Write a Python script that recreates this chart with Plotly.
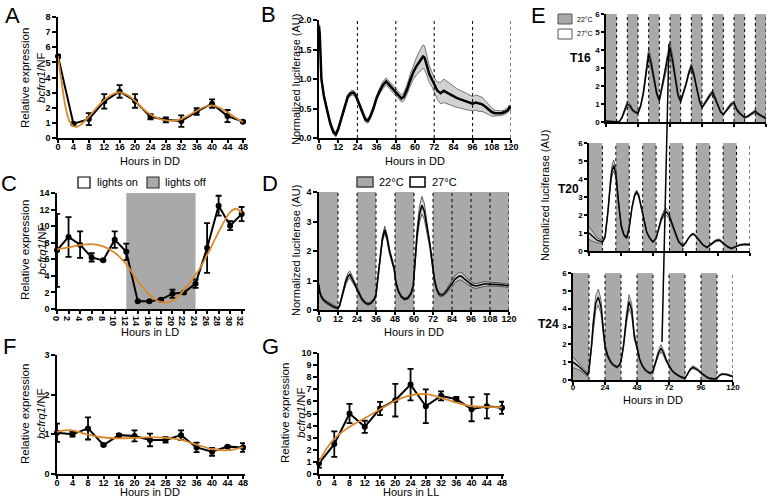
import plotly.graph_objects as go

W, H = 768, 498
FONT = "Liberation Sans"
ORANGE = "#D9892B"
SHADE = "#a9a9a9"

# ---------------- DATA ----------------
# Panel A (qPCR, DD)
A_hours = [0, 4, 8, 12, 16, 20, 24, 28, 32, 36, 40, 44, 48]
A_mean = [5.4, 0.95, 1.25, 2.42, 3.08, 2.45, 1.4, 1.2, 1.12, 1.75, 2.27, 1.45, 1.08]
A_err = [0.1, 0.05, 0.4, 0.48, 0.42, 0.45, 0.17, 0.17, 0.38, 0.22, 0.28, 0.4, 0.05]
A_fit_h = [0, 1, 2, 3, 4, 5, 6, 8, 10, 12, 14, 16, 18, 20, 22, 24, 26, 28, 30, 32, 34, 36, 38, 40, 42, 44, 46, 48]
A_fit = [5.4, 3.6, 2.0, 1.1, 0.78, 0.75, 0.9, 1.4, 2.0, 2.5, 2.88, 3.02, 2.85, 2.45, 1.95, 1.55, 1.3, 1.17, 1.15, 1.25, 1.5, 1.8, 2.05, 2.15, 2.0, 1.7, 1.35, 1.05]

# Panel B (luciferase, DD)
B_hours = [0, 0.5, 1.5, 3, 5, 7, 9, 10.5, 12, 14, 16, 18, 20, 21.5, 23, 25, 27, 29, 30.5, 32, 34, 36, 38, 40, 42,
           44, 46, 48, 50, 51.5, 53, 55, 57, 59, 61, 63, 65, 66, 67.5, 69, 71, 72.5, 74, 76, 78, 80, 82, 84, 86, 88,
           90, 92, 94, 96, 98, 100, 102, 104, 106, 108, 110, 112, 114, 116, 118, 119, 120]
B_mean = [1.9, 1.75, 1.0, 0.72, 0.48, 0.25, 0.1, 0.06, 0.15, 0.33, 0.55, 0.7, 0.76, 0.77, 0.72, 0.58, 0.43, 0.31, 0.29,
          0.36, 0.5, 0.68, 0.8, 0.9, 0.96, 0.9, 0.83, 0.78, 0.72, 0.67, 0.7, 0.82, 0.98, 1.12, 1.22, 1.3, 1.38, 1.36,
          1.22, 1.08, 0.97, 0.88, 0.8, 0.76, 0.8, 0.77, 0.74, 0.7, 0.68, 0.66, 0.64, 0.62, 0.6, 0.58, 0.6, 0.58, 0.57,
          0.53, 0.48, 0.44, 0.42, 0.42, 0.42, 0.44, 0.47, 0.52, 0.5]
B_sem = [0.04, 0.04, 0.04, 0.04, 0.04, 0.04, 0.04, 0.04, 0.04, 0.04, 0.04, 0.04, 0.04, 0.04, 0.04, 0.04, 0.04, 0.04, 0.04,
         0.04, 0.04, 0.04, 0.05, 0.06, 0.06, 0.06, 0.06, 0.06, 0.06, 0.06, 0.07, 0.08, 0.1, 0.12, 0.15, 0.18, 0.2, 0.2,
         0.17, 0.14, 0.12, 0.12, 0.15, 0.18, 0.2, 0.19, 0.18, 0.17, 0.16, 0.15, 0.15, 0.14, 0.13, 0.12, 0.13, 0.13,
         0.12, 0.1, 0.08, 0.07, 0.05, 0.05, 0.04, 0.04, 0.04, 0.04, 0.04]

# Panel C (qPCR, LD)
C_hours = [0, 2, 4, 6, 8, 10, 12, 14, 16, 18, 20, 22, 24, 26, 28, 30, 32]
C_mean = [7.08, 8.7, 7.76, 6.23, 5.87, 8.37, 6.9, 0.93, 0.93, 1.13, 1.85, 2.0, 3.06, 7.36, 12.47, 10.06, 11.46]
C_err = [4.4, 2.4, 1.6, 0.5, 0.1, 1.0, 1.0, 0.05, 0.05, 0.1, 0.5, 0.1, 0.5, 3.0, 1.2, 0.55, 0.85]
C_fit_h = [0, 2, 4, 6, 8, 10, 12, 13, 14, 15, 16, 17, 18, 19, 20, 21, 22, 24, 25, 26, 28, 29, 30, 31, 32]
C_fit = [7.2, 7.45, 7.7, 7.82, 7.55, 6.8, 5.4, 4.4, 3.4, 2.5, 1.75, 1.15, 0.85, 0.78, 1.0, 1.5, 2.3, 4.1, 5.2, 6.5, 9.3, 10.6, 11.7, 12.1, 11.6]
C_dark = [12, 24]

# Panel D (luciferase, temperature cycles)
D_hours = [0, 0.5, 1.5, 3, 5, 7, 9, 11, 12, 13, 14, 15.5, 17, 18.5, 19.5, 21, 23, 25, 27, 29, 31, 33, 35, 36, 37,
           38.5, 40, 41.5, 43, 44.5, 46, 47.5, 48.5, 50, 52, 54, 56, 58, 59.5, 60.5, 62, 63.5, 65, 66.5, 68, 70, 72,
           73, 74.5, 76, 78, 80, 82, 84, 86, 88.5, 90, 92, 94, 96, 98, 100, 102, 104, 106, 108, 110, 112, 114, 116,
           118, 120]
D_mean = [0.85, 0.6, 0.45, 0.33, 0.25, 0.18, 0.12, 0.08, 0.06, 0.15, 0.35, 0.65, 0.98, 1.15, 1.2, 1.05, 0.85, 0.6,
          0.38, 0.25, 0.2, 0.24, 0.38, 0.52, 1.0, 1.75, 2.4, 2.72, 2.45, 2.0, 1.72, 1.4, 0.95, 0.65, 0.45, 0.37, 0.4,
          0.55, 0.8, 1.5, 2.6, 3.25, 3.55, 3.35, 2.85, 2.25, 1.4, 1.0, 0.68, 0.52, 0.5, 0.6, 0.75, 0.9, 1.05, 1.15,
          1.14, 1.05, 0.95, 0.88, 0.82, 0.82, 0.85, 0.88, 0.88, 0.88, 0.88, 0.87, 0.86, 0.85, 0.83, 0.82]
D_sem = [0.05, 0.05, 0.05, 0.05, 0.05, 0.05, 0.04, 0.04, 0.04, 0.04, 0.05, 0.06, 0.1, 0.12, 0.12, 0.1, 0.08, 0.06,
         0.05, 0.04, 0.04, 0.04, 0.04, 0.05, 0.06, 0.08, 0.1, 0.12, 0.12, 0.1, 0.08, 0.07, 0.06, 0.05, 0.04, 0.04,
         0.04, 0.05, 0.06, 0.1, 0.2, 0.28, 0.3, 0.28, 0.22, 0.15, 0.1, 0.06, 0.05, 0.05, 0.05, 0.06, 0.08, 0.1,
         0.12, 0.13, 0.13, 0.12, 0.1, 0.09, 0.08, 0.08, 0.08, 0.08, 0.07, 0.07, 0.06, 0.06, 0.06, 0.05, 0.05, 0.05]

# Panel E: T16, T20, T24 cycles
T16_hours = [0, 4, 8, 10, 12, 14, 16, 18, 20, 22, 24, 26, 28, 30, 32, 34, 36, 38, 40, 42, 44, 46, 48, 50, 52, 54, 56,
             58, 60, 62, 64, 66, 68, 70, 72, 74, 76, 78, 80, 82, 84, 86, 88, 90, 92, 94, 96, 98, 100, 102, 104, 106,
             108, 110, 112, 114, 116, 118, 120]
T16_mean = [0.05, 0.02, 0.0, 0.02, 0.25, 0.65, 1.0, 0.9, 0.65, 0.55, 0.5, 0.9, 1.6, 2.7, 3.8, 3.2, 2.4, 1.6, 1.2,
            1.9, 2.7, 3.5, 4.1, 3.4, 2.4, 1.5, 1.15, 1.6, 2.1, 2.7, 3.1, 2.6, 1.9, 1.2, 0.8, 1.05, 1.25, 1.5, 1.65,
            1.3, 0.9, 0.55, 0.42, 0.6, 0.8, 1.0, 1.05, 0.7, 0.5, 0.38, 0.25, 0.3, 0.4, 0.5, 0.6, 0.45, 0.35, 0.28, 0.2]
T16_sem = [0.03, 0.03, 0.03, 0.03, 0.05, 0.1, 0.15, 0.12, 0.08, 0.06, 0.06, 0.08, 0.12, 0.2, 0.3, 0.25, 0.15, 0.1,
           0.08, 0.1, 0.15, 0.25, 0.35, 0.25, 0.15, 0.1, 0.08, 0.1, 0.1, 0.12, 0.15, 0.12, 0.1, 0.08, 0.06, 0.06,
           0.08, 0.1, 0.12, 0.1, 0.08, 0.06, 0.05, 0.06, 0.08, 0.1, 0.1, 0.08, 0.06, 0.05, 0.05, 0.05, 0.06, 0.06,
           0.08, 0.06, 0.05, 0.05, 0.05]
T20_hours = [0, 2, 4, 6, 8, 10, 12, 14, 16, 17, 18.4, 20, 22, 24, 26, 28, 30, 32, 34, 35.5, 37, 39, 41, 43, 45,
             47.5, 50, 52, 54, 56, 57.7, 59.5, 61, 63, 65, 67, 70, 72, 74, 76, 77.6, 79, 81, 83, 85, 88, 90, 92, 94,
             96, 97.5, 99, 101, 103, 106, 108, 110, 112, 114, 116, 118, 120]
T20_mean = [1.0, 0.85, 0.7, 0.6, 0.55, 0.5, 0.8, 2.1, 3.8, 4.4, 4.75, 4.3, 2.7, 1.4, 0.9, 0.72, 1.3, 2.4, 3.1, 3.28,
            3.1, 2.4, 1.6, 1.05, 0.75, 0.5, 0.7, 1.2, 1.8, 2.1, 2.17, 2.0, 1.7, 1.25, 0.8, 0.5, 0.27, 0.45, 0.7, 0.88,
            0.95, 0.88, 0.7, 0.5, 0.33, 0.2, 0.3, 0.45, 0.55, 0.6, 0.6, 0.5, 0.38, 0.25, 0.14, 0.18, 0.26, 0.33, 0.37,
            0.37, 0.36, 0.35]
T20_sem = [0.35, 0.3, 0.2, 0.15, 0.1, 0.08, 0.08, 0.15, 0.25, 0.3, 0.3, 0.25, 0.15, 0.08, 0.06, 0.05, 0.06, 0.08,
           0.1, 0.1, 0.1, 0.08, 0.06, 0.05, 0.05, 0.05, 0.05, 0.08, 0.12, 0.18, 0.2, 0.18, 0.12, 0.08, 0.05, 0.04,
           0.04, 0.04, 0.04, 0.05, 0.05, 0.05, 0.04, 0.04, 0.04, 0.04, 0.04, 0.05, 0.06, 0.06, 0.06, 0.05, 0.04,
           0.04, 0.03, 0.03, 0.03, 0.04, 0.04, 0.04, 0.04, 0.04]
T24_hours = [0, 2, 4, 6, 8, 10, 11, 12, 13, 14, 15, 17, 19, 21, 23, 24, 26, 28, 30, 32, 33, 35, 36, 37, 38, 40, 42,
             44, 46, 48, 50, 52, 54, 56, 58, 60, 62, 64, 66, 68, 70, 72, 74, 76, 78, 80, 82, 84, 86, 88, 90, 92, 94,
             96, 98, 100, 102, 104, 106, 108, 110, 112, 114, 116, 118, 120]
T24_mean = [1.0, 0.9, 0.78, 0.65, 0.5, 0.35, 0.3, 0.55, 1.2, 2.0, 3.0, 4.3, 4.65, 4.1, 2.6, 1.9, 1.35, 1.05, 0.85,
            0.75, 0.72, 0.85, 1.05, 1.5, 2.0, 3.4, 4.4, 3.95, 2.45, 1.85, 1.15, 0.8, 0.58, 0.45, 0.38, 0.5, 0.95,
            1.5, 1.78, 1.5, 1.1, 0.78, 0.55, 0.4, 0.28, 0.2, 0.14, 0.1, 0.35, 0.6, 0.72, 0.65, 0.55, 0.4, 0.28,
            0.18, 0.1, 0.06, 0.06, 0.1, 0.28, 0.33, 0.33, 0.3, 0.24, 0.2]
T24_sem = [0.3, 0.25, 0.2, 0.15, 0.12, 0.1, 0.1, 0.1, 0.12, 0.2, 0.3, 0.4, 0.45, 0.4, 0.25, 0.15, 0.1, 0.08, 0.06,
           0.05, 0.05, 0.05, 0.06, 0.1, 0.15, 0.3, 0.38, 0.35, 0.2, 0.12, 0.08, 0.06, 0.05, 0.05, 0.05, 0.05, 0.1,
           0.15, 0.2, 0.15, 0.1, 0.06, 0.05, 0.04, 0.04, 0.04, 0.04, 0.04, 0.05, 0.06, 0.08, 0.07, 0.06, 0.05, 0.04,
           0.04, 0.03, 0.03, 0.03, 0.03, 0.04, 0.04, 0.04, 0.04, 0.04, 0.04]

# Panel F (qPCR, DD)
F_hours = [0, 4, 8, 12, 16, 20, 24, 28, 32, 36, 40, 44, 48]
F_mean = [1.04, 1.0, 1.15, 0.73, 0.98, 0.96, 0.86, 0.86, 0.98, 0.67, 0.56, 0.69, 0.67]
F_err = [0.23, 0.06, 0.28, 0.02, 0.03, 0.14, 0.16, 0.07, 0.12, 0.12, 0.1, 0.02, 0.11]
F_fit_h = [0, 2, 4, 6, 8, 12, 16, 20, 24, 28, 32, 36, 40, 44, 48]
F_fit = [1.06, 1.1, 1.1, 1.05, 0.99, 0.92, 0.9, 0.91, 0.93, 0.91, 0.86, 0.74, 0.63, 0.6, 0.68]

# Panel G (qPCR, LL)
G_hours = [0, 4, 8, 12, 16, 20, 24, 28, 32, 36, 40, 44, 48]
G_mean = [0.88, 2.47, 5.0, 3.9, 5.41, 6.1, 7.39, 5.6, 6.46, 6.18, 5.36, 5.6, 5.47]
G_err = [0.35, 1.05, 0.8, 0.5, 0.55, 1.35, 1.3, 1.4, 0.37, 0.2, 1.0, 1.0, 0.5]
G_fit_h = [0, 2, 4, 8, 12, 16, 20, 24, 28, 32, 36, 40, 44, 48]
G_fit = [1.0, 2.1, 2.9, 3.9, 4.6, 5.35, 6.05, 6.5, 6.6, 6.3, 5.9, 5.6, 5.55, 5.5]

# ---------------- FIGURE ----------------
fig = go.Figure()
layout = dict(width=W, height=H, margin=dict(l=0, r=0, t=0, b=0, autoexpand=False), paper_bgcolor="white",
              plot_bgcolor="rgba(0,0,0,0)", showlegend=False, font=dict(family=FONT, color="black"))

panels = {
    # name: (axis idx, px_left, px_right, x_range, px_bottom, px_top, y_range, dtick_x, dtick_y, show_xlabels, tickfmt)
    "A": (1, 58, 246, [0, 48.8], 138, 17, [0, 8], 4, 1, True, None),
    "B": (2, 319, 511, [0, 120], 138, 20, [0, 2], 12, 0.5, True, ".1f"),
    "C": (3, 57, 244.6, [0, 32.5], 309, 193, [0, 14], 2, 2, True, None),
    "D": (4, 319, 509, [0, 120], 310, 192, [0, 4], 12, 1, True, None),
    "T16": (5, 606, 766, [0, 120], 122, 14, [0, 6], 24, 1, False, None),
    "T20": (6, 589, 750, [0, 120], 251, 143, [0, 6], 24, 1, False, None),
    "T24": (7, 573, 733, [0, 120], 380, 273, [0, 6], 24, 1, True, None),
    "F": (8, 57, 245, [0, 48.5], 474, 355, [0, 3], 4, 1, True, None),
    "G": (9, 319, 504, [0, 48.5], 474, 353, [0, 10], 4, 1, True, None),
}


def ax_names(i):
    return ("x" if i == 1 else f"x{i}"), ("y" if i == 1 else f"y{i}")


for name, (i, xl, xr, xrng, yb, yt, yrng, dx, dy, showx, fmt) in panels.items():
    small = name.startswith("T")
    tf = dict(family=FONT, size=8 if small else 9, color="black", weight="bold")
    xn, yn = ax_names(i)
    common = dict(showline=True, linecolor="black", linewidth=1.5, ticks="outside", ticklen=4 if not small else 3,
                  tickwidth=1.5, tickcolor="black", showgrid=False, zeroline=False, tickfont=tf, fixedrange=True,
                  automargin=False)
    layout["xaxis" if i == 1 else f"xaxis{i}"] = dict(
        common, domain=[xl / W, xr / W], range=xrng, anchor=yn, tick0=0, dtick=dx, showticklabels=showx,
        ticklen=3, ticklabelstandoff=-4)
    ydict = dict(common, domain=[1 - yb / H, 1 - yt / H], range=yrng, anchor=xn, tick0=0, dtick=dy)
    if fmt:
        ydict["tickformat"] = fmt
    layout["yaxis" if i == 1 else f"yaxis{i}"] = ydict

shapes = []


def rect(i, x0, x1, y0, y1, color=SHADE):
    xn, yn = ax_names(i)
    shapes.append(dict(type="rect", xref=xn, yref=yn, x0=x0, x1=x1, y0=y0, y1=y1,
                       fillcolor=color, line=dict(width=0), layer="below"))


def vdash(i, x, y1):
    xn, yn = ax_names(i)
    shapes.append(dict(type="line", xref=xn, yref=yn, x0=x, x1=x, y0=0, y1=y1,
                       line=dict(color="black", width=1, dash="dot"), layer="above"))


# Panel C dark period
rect(3, C_dark[0], C_dark[1], 0, 14)
# Panel D: gray everywhere except warm windows
rect(4, 0, 12, 0, 4)
rect(4, 24, 36, 0, 4)
rect(4, 48, 60, 0, 4)
rect(4, 72, 120, 0, 4)
for h in range(12, 121, 12):
    vdash(4, h, 4)
# Panel B dashed lines
for h in [24, 48, 72, 96, 120]:
    vdash(2, h, 2)
# Panel E shading
for s in range(0, 120, 16):
    rect(5, s, s + 8, 0, 6)
for h in range(8, 121, 8):
    vdash(5, h, 6)
for s in range(0, 120, 20):
    rect(6, s, s + 10, 0, 6)
for h in range(10, 121, 10):
    vdash(6, h, 6)
for s in range(0, 120, 24):
    rect(7, s, s + 12, 0, 6)
for h in range(12, 121, 12):
    vdash(7, h, 6)


def band(i, hours, mean, sem, line_w=2.0, edge="#444444"):
    xn, yn = ax_names(i)
    lo = [m - s for m, s in zip(mean, sem)]
    hi = [m + s for m, s in zip(mean, sem)]
    fig.add_trace(go.Scatter(x=hours, y=lo, mode="lines", line=dict(color=edge, width=0.7),
                             xaxis=xn, yaxis=yn, hoverinfo="skip"))
    fig.add_trace(go.Scatter(x=hours, y=hi, mode="lines", line=dict(color=edge, width=0.7),
                             fill="tonexty", fillcolor="rgba(205,205,205,0.9)", xaxis=xn, yaxis=yn,
                             hoverinfo="skip"))
    fig.add_trace(go.Scatter(x=hours, y=mean, mode="lines", line=dict(color="black", width=line_w),
                             xaxis=xn, yaxis=yn))


def qpcr(i, hours, mean, err, fit_h, fit):
    xn, yn = ax_names(i)
    fig.add_trace(go.Scatter(x=hours, y=mean, mode="lines+markers", line=dict(color="black", width=2),
                             marker=dict(color="black", size=6),
                             error_y=dict(type="data", array=err, color="black", thickness=1.8, width=3),
                             xaxis=xn, yaxis=yn, cliponaxis=False))
    fig.add_trace(go.Scatter(x=fit_h, y=fit, mode="lines", line=dict(color=ORANGE, width=1.8, shape="spline"),
                             xaxis=xn, yaxis=yn, cliponaxis=False))


qpcr(1, A_hours, A_mean, A_err, A_fit_h, A_fit)
band(2, B_hours, B_mean, B_sem, line_w=2.5)
qpcr(3, C_hours, C_mean, C_err, C_fit_h, C_fit)
band(4, D_hours, D_mean, D_sem, line_w=1.6, edge="#222222")
band(5, T16_hours, T16_mean, T16_sem, line_w=1.4, edge="#333333")
band(6, T20_hours, T20_mean, T20_sem, line_w=1.4, edge="#333333")
band(7, T24_hours, T24_mean, T24_sem, line_w=1.4, edge="#333333")
qpcr(8, F_hours, F_mean, F_err, F_fit_h, F_fit)
qpcr(9, G_hours, G_mean, G_err, G_fit_h, G_fit)

# connecting line in E (paper coordinates)
shapes.append(dict(type="line", xref="paper", yref="paper", x0=669 / W, y0=1 - 44 / H, x1=662 / W, y1=1 - 342 / H,
                   line=dict(color="black", width=1.5)))


# legend boxes
def pbox(x0, y0, x1, y1, fill, lw=1.2, lc="black"):
    shapes.append(dict(type="rect", xref="paper", yref="paper", x0=x0 / W, x1=x1 / W, y0=1 - y1 / H, y1=1 - y0 / H,
                       fillcolor=fill, line=dict(color=lc, width=lw)))


pbox(78, 177, 90, 188, "white")
pbox(147, 177, 159, 188, SHADE, lc="#333333")
pbox(357, 177, 373, 187, SHADE, lw=1.5, lc="#444444")
pbox(410, 177, 425, 187, "white", lw=1.5)
pbox(558, 14, 572, 24, SHADE, lw=1, lc="#555555")
pbox(558, 29, 572, 39, "white", lw=1, lc="#555555")

annotations = []


def txt(x, y, s, size=11, angle=0, anchor="center", bold=False):
    f = dict(family=FONT, size=size, color="black")
    if bold:
        f["weight"] = "bold"
    annotations.append(dict(x=x / W, y=1 - y / H, xref="paper", yref="paper", text=s, showarrow=False,
                            textangle=angle, xanchor=anchor, yanchor="middle", font=f))


# panel letters
for L, (x, y) in {"A": (12, 15), "B": (268, 14), "C": (9, 184), "D": (270, 184), "E": (538, 16),
                  "F": (9, 346), "G": (270, 346)}.items():
    txt(x, y, L, size=22)

# legend texts
txt(95, 182, "lights on", size=11, anchor="left")
txt(163, 182, "lights off", size=11, anchor="left")
txt(377, 182, "22°C", size=11, anchor="left")
txt(430, 182, "27°C", size=11, anchor="left")
txt(575, 19, "22°C", size=7, anchor="left")
txt(575, 34, "27°C", size=7, anchor="left")

# T labels
txt(580, 58, "T16", size=12, bold=True)
txt(568, 189, "T20", size=12, bold=True)
txt(548, 324, "T24", size=12, bold=True)

# x axis titles
txt(150, 161, "Hours in DD", size=11)
txt(415, 161, "Hours in DD", size=11)
txt(150, 332, "Hours in LD", size=11)
txt(414, 332, "Hours in DD", size=11)
txt(653, 400, "Hours in DD", size=11)
txt(150, 492, "Hours in DD", size=11)
txt(411, 492, "Hours in LL", size=11)

# y axis titles
for (x1, x2, yc) in [(25, 41, 78), (25, 42, 250), (25, 41, 414), (285, 301, 413)]:
    txt(x1, yc, "Relative expression", size=11.5, angle=-90)
    txt(x2, yc, "<i>bcfrq1</i>/NF", size=11.5, angle=-90)
txt(296, 80, "Normalized luciferase (AU)", size=11, angle=-90)
txt(296, 251, "Normalized luciferase (AU)", size=11, angle=-90)
txt(545, 196, "Normalized luciferase (AU)", size=11, angle=-90)

layout["shapes"] = shapes
layout["annotations"] = annotations
fig.update_layout(**layout)
fig.write_html("out.html", config={"responsive": False, "displayModeBar": False},
               post_script="document.body.style.margin='0px';document.body.style.padding='0px';"
                           "document.body.style.overflow='hidden';")
